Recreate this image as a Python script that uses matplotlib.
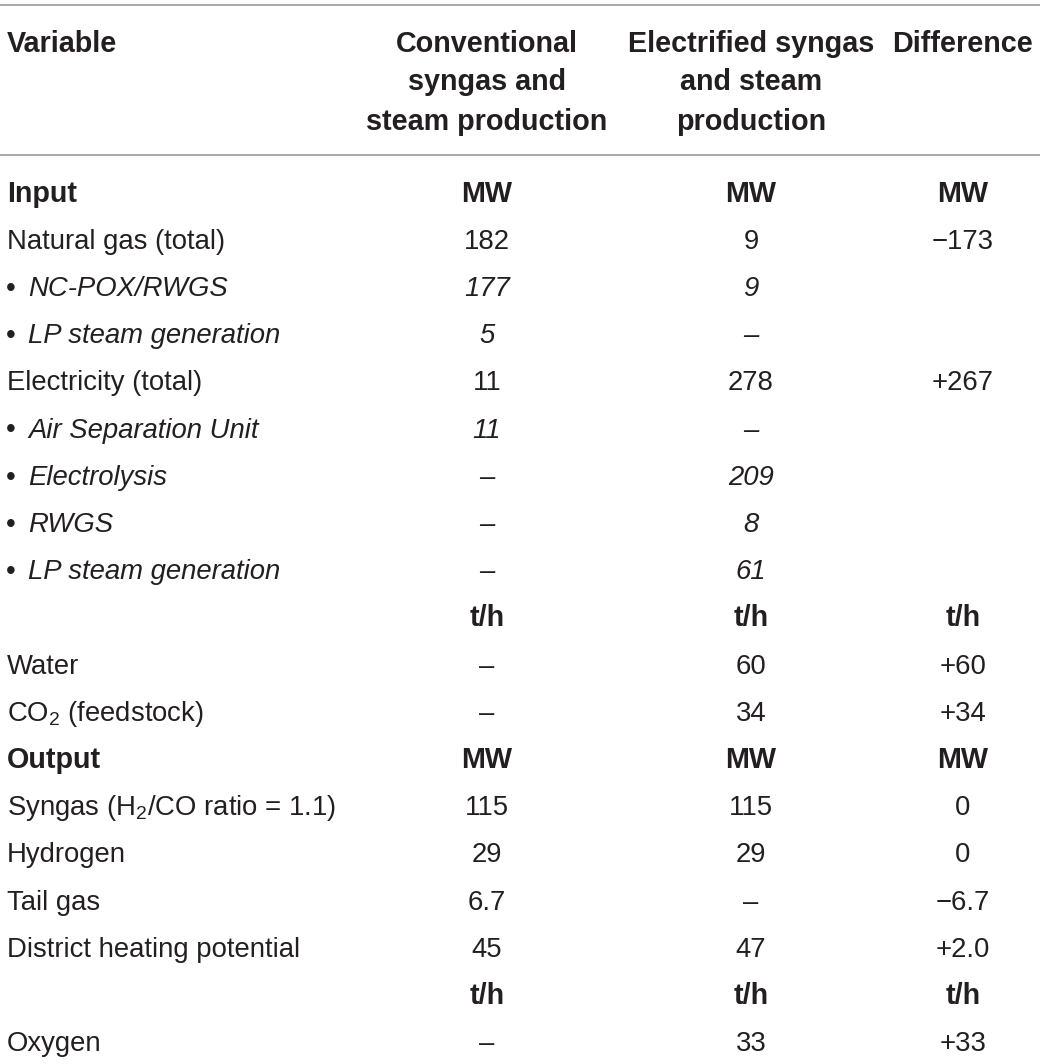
import matplotlib.pyplot as plt

plt.rcParams['font.family'] = ['Liberation Sans', 'DejaVu Sans']
plt.rcParams['mathtext.fontset'] = 'custom'
plt.rcParams['mathtext.rm'] = 'Liberation Sans'
plt.rcParams['mathtext.it'] = 'Liberation Sans:italic'

# Table content
headers = ["Variable",
           "Conventional\nsyngas and\nsteam production",
           "Electrified syngas\nand steam\nproduction",
           "Difference"]

labels = ["Input", "Natural gas (total)", "NC-POX/RWGS", "LP steam generation",
          "Electricity (total)", "Air Separation Unit", "Electrolysis", "RWGS",
          "LP steam generation", "", "Water", "CO$_2$ (feedstock)", "Output",
          "Syngas (H$_2$/CO ratio = 1.1)", "Hydrogen", "Tail gas",
          "District heating potential", "", "Oxygen"]

# row kind: 'bold' section/unit rows, 'sub' italic bullet rows, 'plain'
kinds = ["bold", "plain", "sub", "sub", "plain", "sub", "sub", "sub", "sub",
         "bold", "plain", "plain", "bold", "plain", "plain", "plain", "plain",
         "bold", "plain"]

conventional = ["MW", "182", "177", "5", "11", "11", "\u2013", "\u2013", "\u2013",
                "t/h", "\u2013", "\u2013", "MW", "115", "29", "6.7", "45", "t/h", "\u2013"]
electrified = ["MW", "9", "9", "\u2013", "278", "\u2013", "209", "8", "61",
               "t/h", "60", "34", "MW", "115", "29", "\u2013", "47", "t/h", "33"]
difference = ["MW", "\u2212173", "", "", "+267", "", "", "", "",
              "t/h", "+60", "+34", "MW", "0", "0", "\u22126.7", "+2.0", "t/h", "+33"]

W, H = 1040, 1064
fig = plt.figure(figsize=(W / 100, H / 100), dpi=100)
ax = fig.add_axes([0, 0, 1, 1])
ax.set_xlim(0, W)
ax.set_ylim(H, 0)
ax.axis('off')

fs = 19.8      # regular text
fs_b = 20.7    # bold text
color = '#231f20'
col_x = [7, 487, 751, 963]
cap_half = 9.5

# header
hdr_y = [42, 81, 120]
ax.text(col_x[0], hdr_y[0] + cap_half, headers[0], fontsize=fs_b, fontweight='bold',
        color=color, ha='left', va='baseline')
for j in range(1, 4):
    for k, line in enumerate(headers[j].split("\n")):
        ax.text(col_x[j], hdr_y[k] + cap_half, line, fontsize=fs_b, fontweight='bold',
                color=color, ha='center', va='baseline')

ax.plot([0, W], [5, 5], color='#999999', lw=1.2)
ax.plot([0, W], [155, 155], color='#999999', lw=1.2)

row0, step = 192, 47.2
for i, lab in enumerate(labels):
    yb = row0 + step * i + cap_half
    kind = kinds[i]
    weight = 'bold' if kind == 'bold' else 'normal'
    size = fs_b if kind == 'bold' else fs
    style = 'italic' if kind == 'sub' else 'normal'
    if kind == 'sub':
        ax.text(col_x[0] - 1, yb, "\u2022", fontsize=fs, color=color, ha='left', va='baseline')
        ax.text(col_x[0] + 21, yb, lab, fontsize=fs, style='italic', color=color,
                ha='left', va='baseline')
    else:
        ax.text(col_x[0], yb, lab, fontsize=size, fontweight=weight, color=color,
                ha='left', va='baseline')
    for j, vals in zip([1, 2, 3], [conventional, electrified, difference]):
        ax.text(col_x[j], yb, vals[i], fontsize=size, fontweight=weight, style=style,
                color=color, ha='center', va='baseline')

fig.savefig("out.png", dpi=100, facecolor='white')
